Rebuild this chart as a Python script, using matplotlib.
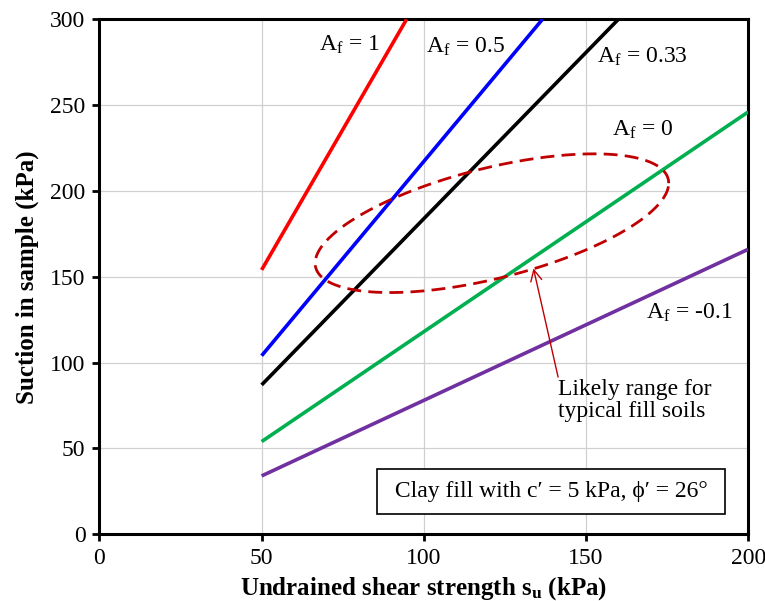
import numpy as np
import matplotlib.pyplot as plt

plt.rcParams['font.family'] = ['Liberation Serif', 'DejaVu Serif']
plt.rcParams['mathtext.fontset'] = 'custom'
plt.rcParams['mathtext.rm'] = 'Liberation Serif'
plt.rcParams['mathtext.it'] = 'Liberation Serif:italic'
plt.rcParams['mathtext.bf'] = 'Liberation Serif:bold'

# undrained shear strength (kPa) and suction (kPa) for each A_f line
af_labels = ['1', '0.5', '0.33', '0', '-0.1']
su_start = [50, 50, 50, 50, 50]
su_end = [94.7, 136.6, 160.0, 200, 200]
suction_start = [154, 104, 87, 54, 34]
suction_end = [300, 300, 300, 246, 166]
line_colors = ['#FF0000', '#0000FF', '#000000', '#00B050', '#7030A0']

# label positions (su, suction)
label_x = [77, 113, 167.3, 167.4, 181.7]
label_y = [285, 284, 278, 235.5, 129]

# likely range for typical fill soils (sheared ellipse)
ell_cx, ell_cy = 121, 181.2
ell_a, ell_b, ell_k = 54.5, 33, 23.3

fig = plt.figure(figsize=(7.65, 6.01), dpi=100)
ax = fig.add_axes([0.130, 0.111, 0.848, 0.857])

for i in range(len(af_labels)):
    ax.plot([su_start[i], su_end[i]], [suction_start[i], suction_end[i]],
            color=line_colors[i], lw=2.6, solid_capstyle='butt', zorder=3)
    ax.text(label_x[i], label_y[i], r'A$_\mathregular{f}$ = ' + af_labels[i],
            fontsize=17, ha='center', va='center', zorder=4)

t = np.linspace(0, 2 * np.pi, 400)
ex = ell_cx + ell_a * np.cos(t)
ey = ell_cy + ell_b * np.sin(t) + ell_k * np.cos(t)
ax.plot(ex, ey, color='#C00000', lw=2, linestyle=(0, (5, 2.6)), zorder=5)

# pointer from the note up to the ellipse
ax.annotate('', xy=(133.8, 154.9), xytext=(141.4, 91.6),
            arrowprops=dict(arrowstyle='->', color='#C00000', lw=1,
                            mutation_scale=20, shrinkA=0, shrinkB=0),
            zorder=6)
ax.text(141.4, 78, 'Likely range for\ntypical fill soils', fontsize=17,
        ha='left', va='center', linespacing=1.1, zorder=6)

ax.text(0.696, 0.083, ' Clay fill with c\u2032 = 5 kPa, \u03d5\u2032 = 26\u00b0 ',
        transform=ax.transAxes, fontsize=17, ha='center', va='center',
        bbox=dict(boxstyle='square,pad=0.5', fc='white', ec='black', lw=1.2),
        zorder=6)

ax.set_xlim(0, 200)
ax.set_ylim(0, 300)
ax.set_xticks(np.arange(0, 201, 50))
ax.set_yticks(np.arange(0, 301, 50))
ax.grid(True, color='#D0D0D0', lw=0.9)
ax.set_axisbelow(True)
for s in ax.spines.values():
    s.set_linewidth(2.2)
ax.tick_params(direction='out', length=5, width=2, labelsize=17, pad=5)

ax.set_xlabel(r'Undrained shear strength s$_\mathbf{u}$ (kPa)',
              fontsize=18, fontweight='bold', labelpad=4)
ax.set_ylabel('Suction in sample (kPa)', fontsize=18, fontweight='bold',
              labelpad=8)

plt.savefig('out.png', dpi=100)
plt.close()
